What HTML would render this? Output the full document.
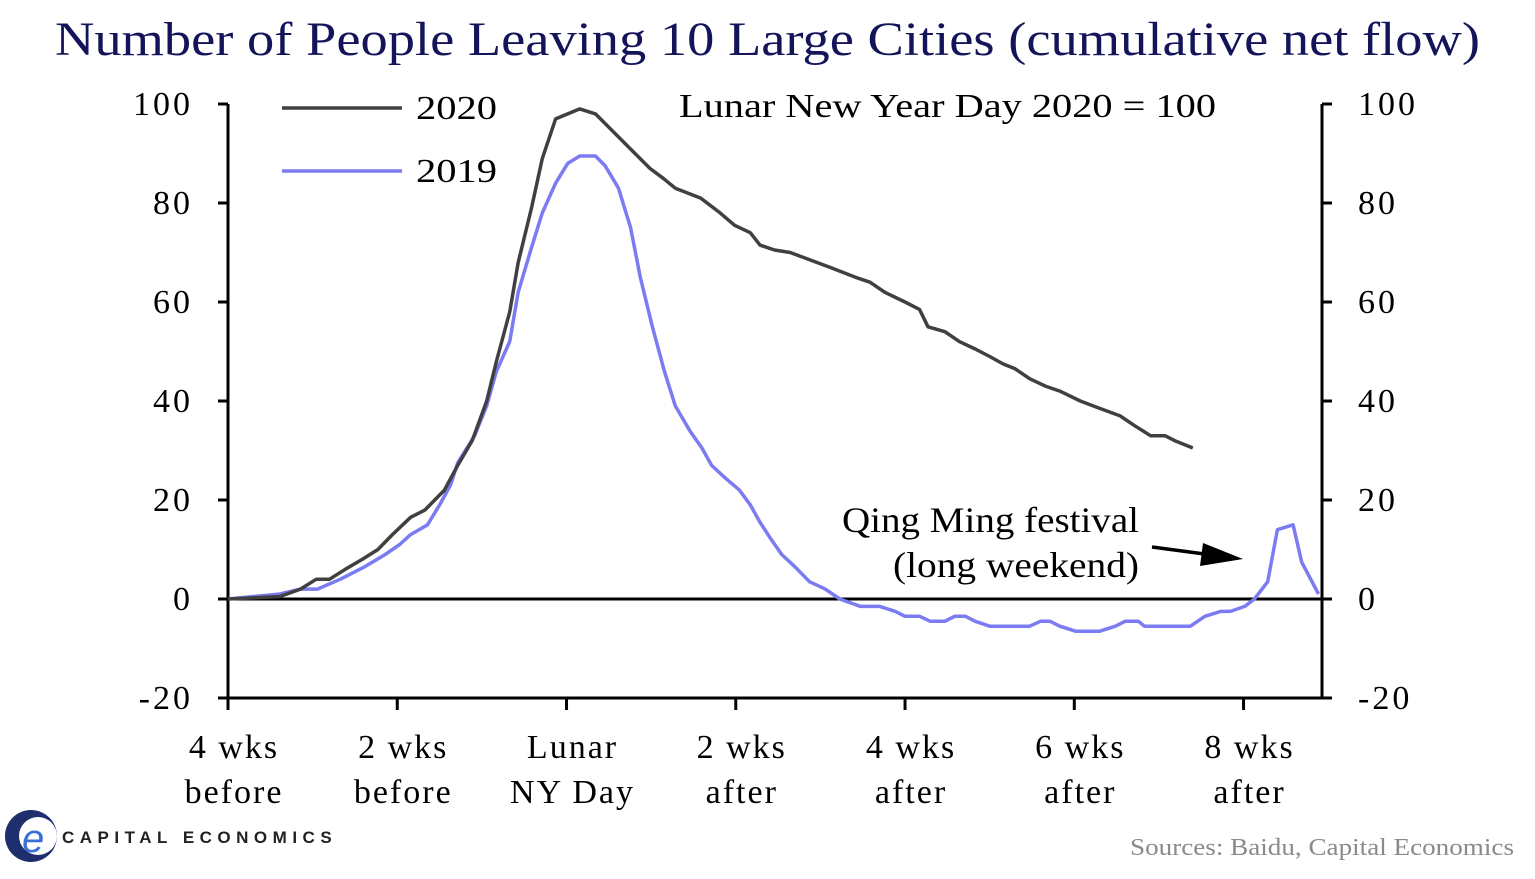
<!DOCTYPE html>
<html><head><meta charset="utf-8"><style>
body{margin:0;background:#fff;width:1535px;height:874px;overflow:hidden;font-family:"Liberation Serif",serif}
</style></head><body>
<svg width="1535" height="874" xmlns="http://www.w3.org/2000/svg">
<text x="55" y="55" textLength="1425" lengthAdjust="spacingAndGlyphs" font-size="48" fill="#14145a" font-family="Liberation Serif,serif">Number of People Leaving 10 Large Cities (cumulative net flow)</text>
<g id="plot"></g>
<g>
<circle cx="31" cy="836" r="26" fill="#1f2f6e"/>
<circle cx="38" cy="836" r="19" fill="#fff"/>
<text x="22" y="852" font-size="40" fill="#3a6fd8" font-family="Liberation Sans,sans-serif" font-style="italic">e</text>
<text x="62" y="843" font-size="17" font-weight="bold" letter-spacing="5.5" fill="#222" font-family="Liberation Sans,sans-serif">CAPITAL ECONOMICS</text>
</g>
<text x="1130" y="855" textLength="384" lengthAdjust="spacingAndGlyphs" font-size="24" fill="#8a8a8a">Sources: Baidu, Capital Economics</text>
</svg>
<script>
const days2020=[-28,-23.7,-22,-20.7,-19.6,-18.3,-16.9,-15.6,-14.4,-12.9,-11.7,-10.1,-9,-7.8,-6.6,-5.8,-4.7,-4,-2.9,-2,-0.9,0.1,1.1,2.4,6.9,8,9,11.1,12.7,13.9,15.2,16,17.2,18.5,21.8,23.9,25.1,26.3,28,29.2,29.9,31.3,32.5,33.8,35,36.1,37.1,38.3,39.6,40.8,42.5,44.1,45.8,47,48.3,49.5,50.3,51.8];
const vals2020=[0,0.5,2,4,4,6,8,10,13,16.5,18,22,27,32,40,48,58,68,79,89,97,98,99,98,87,85,83,81,78,75.5,74,71.5,70.5,70,67,65,64,62,60,58.5,55,54,52,50.5,49,47.5,46.5,44.5,43,42,40,38.5,37,35,33,33,32,30.5];
const days2019=[-28,-23.7,-22,-20.6,-18.7,-16.7,-15,-13.8,-12.9,-11.5,-10.5,-9.6,-9,-7.6,-6.6,-5.8,-4.7,-4,-2.9,-2,-0.9,0.1,1.1,2.4,3.2,4.3,5.3,6.1,7.1,8.1,9,10.2,11.2,12,13.1,14.3,15.2,16,16.8,17.8,18.9,20.1,21.4,22.6,24.3,25.9,27.2,28,29.2,30.1,31.3,32.1,33,33.8,35,38.3,39.2,40,40.8,42.1,44.1,45.4,46.2,47.3,47.8,51.6,52.8,54.1,54.9,56.1,56.9,58,58.8,60.1,60.8,62.2];
const vals2019=[0,1,2,2,4,6.5,9,11,13,15,19,23,27.5,33,39,46,52,62,71,78,84,88,89.5,89.5,87.5,83,75,65,55,46,39,34,30.5,27,24.5,22,19,15.5,12.5,9,6.5,3.5,2,0,-1.5,-1.5,-2.5,-3.5,-3.5,-4.5,-4.5,-3.5,-3.5,-4.5,-5.5,-5.5,-4.5,-4.5,-5.5,-6.5,-6.5,-5.5,-4.5,-4.5,-5.5,-5.5,-3.5,-2.5,-2.5,-1.5,0,3.5,14,15,7.5,1];
const yTicks=[-20,0,20,40,60,80,100];
const xTickDays=[-28,-14,0,14,28,42,56];
const xTickLine1=["4 wks","2 wks","Lunar","2 wks","4 wks","6 wks","8 wks"];
const xTickLine2=["before","before","NY Day","after","after","after","after"];

const NS="http://www.w3.org/2000/svg";
const L=228,R=1322,T=104,B=698;
const x=d=>L+(d+28)*12.09;
const y=v=>B-(v+20)/120*(B-T);
const g=document.getElementById('plot');
function mk(tag,attrs,parent){const e=document.createElementNS(NS,tag);for(const k in attrs)e.setAttribute(k,attrs[k]);(parent||g).appendChild(e);return e;}
function txt(s,attrs){const e=mk('text',attrs);e.textContent=s;return e;}
let a=mk('line',{x1:L,y1:T,x2:L,y2:B,stroke:'#000','stroke-width':3});


a=mk('line',{x1:R,y1:T,x2:R,y2:B,stroke:'#000','stroke-width':3});


a=mk('line',{x1:L,y1:B,x2:R,y2:B,stroke:'#000','stroke-width':3});


a=mk('line',{x1:L,y1:y(0),x2:R,y2:y(0),stroke:'#000','stroke-width':3});


yTicks.forEach(v=>{
 mk('line',{x1:L,y1:y(v),x2:L-10,y2:y(v),stroke:'#000','stroke-width':3});
 mk('line',{x1:R,y1:y(v),x2:R+10,y2:y(v),stroke:'#000','stroke-width':3});
 let t=txt(String(v),{x:L-35,y:y(v)+11,'text-anchor':'end','font-size':34,'letter-spacing':3,fill:'#000'});
 
 
 t=txt(String(v),{x:R+36,y:y(v)+11,'text-anchor':'start','font-size':34,'letter-spacing':3,fill:'#000'});
 
 
});
xTickDays.forEach((d,i)=>{
 mk('line',{x1:x(d),y1:B,x2:x(d),y2:B+12,stroke:'#000','stroke-width':3});
 let t=txt(xTickLine1[i],{x:x(d)+6,y:758,'text-anchor':'middle','font-size':34,'letter-spacing':2,fill:'#000'});
 
 
 t=txt(xTickLine2[i],{x:x(d)+6,y:803,'text-anchor':'middle','font-size':34,'letter-spacing':2,fill:'#000'});
 
 
});
function path(ds,vs){return ds.map((d,i)=>(i?'L':'M')+x(d).toFixed(1)+','+y(vs[i]).toFixed(1)).join('');}
let p=mk('path',{d:path(days2019,vals2019),fill:'none',stroke:'#7b7bf2','stroke-width':3.5,'stroke-linejoin':'round'});


p=mk('path',{d:path(days2020,vals2020),fill:'none',stroke:'#404040','stroke-width':3.5,'stroke-linejoin':'round'});


let lg=mk('line',{x1:282,y1:108,x2:402,y2:108,stroke:'#404040','stroke-width':3.5});


let lt=txt('2020',{x:416,y:119,'font-size':34,textLength:81,lengthAdjust:'spacingAndGlyphs'});


lg=mk('line',{x1:282,y1:171,x2:402,y2:171,stroke:'#7b7bf2','stroke-width':3.5});


lt=txt('2019',{x:416,y:182,'font-size':34,textLength:81,lengthAdjust:'spacingAndGlyphs'});


lt=txt('Lunar New Year Day 2020 = 100',{x:679,y:117,'font-size':34,textLength:537,lengthAdjust:'spacingAndGlyphs'});


lt=txt('Qing Ming festival',{x:842,y:532,'font-size':36,textLength:297,lengthAdjust:'spacingAndGlyphs'});


lt=txt('(long weekend)',{x:893,y:577,'font-size':36,textLength:246,lengthAdjust:'spacingAndGlyphs'});


let ar=mk('line',{x1:1152,y1:547,x2:1212,y2:555,stroke:'#000','stroke-width':3.5});


let ah=mk('polygon',{points:'1243,559 1203,543 1200,566',fill:'#000'});


</script>
</body></html>
